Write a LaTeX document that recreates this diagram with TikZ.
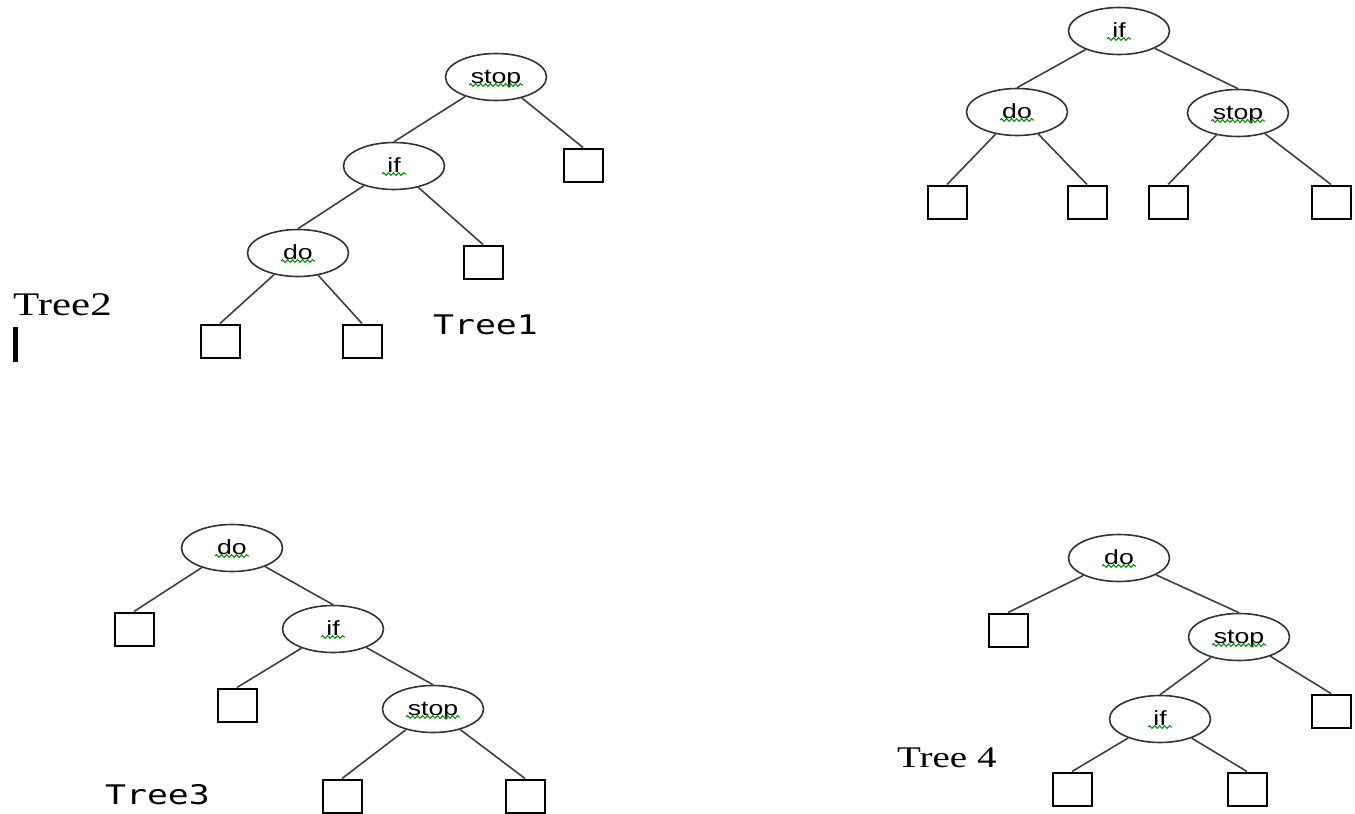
\documentclass[tikz,border=0pt]{standalone}
\usepackage{fontspec}
\usepackage{graphicx}
\usetikzlibrary{shapes.geometric,decorations.pathmorphing}
\setmainfont{Liberation Serif}
\newfontfamily\kwfont{Liberation Sans}
\newfontfamily\monolabel{DejaVu Sans Mono}
\newcommand{\stretchtxt}[1]{\scalebox{1.3}[1]{#1}}
\newcommand{\squiggle}[2]{\draw[squig] ([shift={(-#2,8)}]#1.center) -- ([shift={(#2,8)}]#1.center);}
\tikzset{
  kw/.style={ellipse, draw=black!80, line width=1.6pt, minimum width=101pt, minimum height=47pt,
    inner sep=0pt, text height=17pt, text depth=4pt, font=\kwfont\fontsize{20.5}{20.5}\selectfont},
  leaf/.style={rectangle, draw=black, line width=2pt, minimum width=39pt, minimum height=33pt, inner sep=0pt},
  edge/.style={draw=black!75, line width=1.6pt},
  squig/.style={draw=green!55!black, line width=1pt, decorate,
    decoration={snake, amplitude=1.4pt, segment length=5pt}},
  monotxt/.style={font=\monolabel\fontsize{27}{27}\selectfont, inner sep=0pt},
  serif/.style={font=\fontsize{33}{33}\selectfont, inner sep=0pt},
}
\begin{document}
\begin{tikzpicture}[x=1pt,y=-1pt]
\useasboundingbox[fill=white] (0,0) rectangle (1355,814);

% ---------- Tree 1 ----------
\node[kw] (t1stop) at (496,77) {\stretchtxt{stop}};
\node[kw] (t1if) at (394,166) {\stretchtxt{if}};
\node[kw] (t1do) at (298,253) {\stretchtxt{do}};
\node[leaf] (t1a) at (583,165) {};
\node[leaf] (t1b) at (483,262) {};
\node[leaf] (t1c) at (220,341) {};
\node[leaf] (t1d) at (362,341) {};
\draw[edge] (t1stop) -- (t1if.north);
\draw[edge] (t1stop) -- (t1a.north);
\draw[edge] (t1if) -- (t1do.north);
\draw[edge] (t1if) -- (t1b.north);
\draw[edge] (t1do) -- (t1c.north);
\draw[edge] (t1do) -- (t1d.north);
\squiggle{t1stop}{27}
\squiggle{t1if}{12}
\squiggle{t1do}{17}
\node[monotxt] (lab1) at (485.5,325) {\scalebox{1.29}[1]{Tree1}};

% ---------- Tree 2 ----------
\node[kw] (t2if) at (1119,31) {\stretchtxt{if}};
\node[kw] (t2do) at (1017,112) {\stretchtxt{do}};
\node[kw] (t2stop) at (1238,113) {\stretchtxt{stop}};
\node[leaf] (t2a) at (947,202) {};
\node[leaf] (t2b) at (1087,202) {};
\node[leaf] (t2c) at (1168,202) {};
\node[leaf] (t2d) at (1331,202) {};
\draw[edge] (t2if) -- (t2do.north);
\draw[edge] (t2if) -- (t2stop.north);
\draw[edge] (t2do) -- (t2a.north);
\draw[edge] (t2do) -- (t2b.north);
\draw[edge] (t2stop) -- (t2c.north);
\draw[edge] (t2stop) -- (t2d.north);
\squiggle{t2if}{12}
\squiggle{t2do}{17}
\squiggle{t2stop}{27}
\node[serif, anchor=base west] (lab2) at (13,315) {\stretchtxt{Tree2}};
\fill[black] (13,327) rectangle (18,362);

% ---------- Tree 3 ----------
\node[kw] (t3do) at (232,548) {\stretchtxt{do}};
\node[kw] (t3if) at (333,629) {\stretchtxt{if}};
\node[kw] (t3stop) at (433,709) {\stretchtxt{stop}};
\node[leaf] (t3a) at (134,629) {};
\node[leaf] (t3b) at (237,705) {};
\node[leaf] (t3c) at (342,796) {};
\node[leaf] (t3d) at (525,796) {};
\draw[edge] (t3do) -- (t3a.north);
\draw[edge] (t3do) -- (t3if.north);
\draw[edge] (t3if) -- (t3b.north);
\draw[edge] (t3if) -- (t3stop.north);
\draw[edge] (t3stop) -- (t3c.north);
\draw[edge] (t3stop) -- (t3d.north);
\squiggle{t3do}{17}
\squiggle{t3if}{12}
\squiggle{t3stop}{27}
\node[monotxt] (lab3) at (157.5,795) {\scalebox{1.29}[1]{Tree3}};

% ---------- Tree 4 ----------
\node[kw] (t4do) at (1119,558) {\stretchtxt{do}};
\node[kw] (t4stop) at (1239,637) {\stretchtxt{stop}};
\node[kw] (t4if) at (1160,719) {\stretchtxt{if}};
\node[leaf] (t4a) at (1008,630) {};
\node[leaf] (t4b) at (1331,711) {};
\node[leaf] (t4c) at (1072,789) {};
\node[leaf] (t4d) at (1247,789) {};
\draw[edge] (t4do) -- (t4a.north);
\draw[edge] (t4do) -- (t4stop.north);
\draw[edge] (t4stop) -- (t4if.north);
\draw[edge] (t4stop) -- (t4b.north);
\draw[edge] (t4if) -- (t4c.north);
\draw[edge] (t4if) -- (t4d.north);
\squiggle{t4do}{17}
\squiggle{t4stop}{27}
\squiggle{t4if}{12}
\node[serif, anchor=base west, font=\fontsize{30}{30}\selectfont] (lab4) at (897,767) {\stretchtxt{Tree 4}};
\end{tikzpicture}
\end{document}
